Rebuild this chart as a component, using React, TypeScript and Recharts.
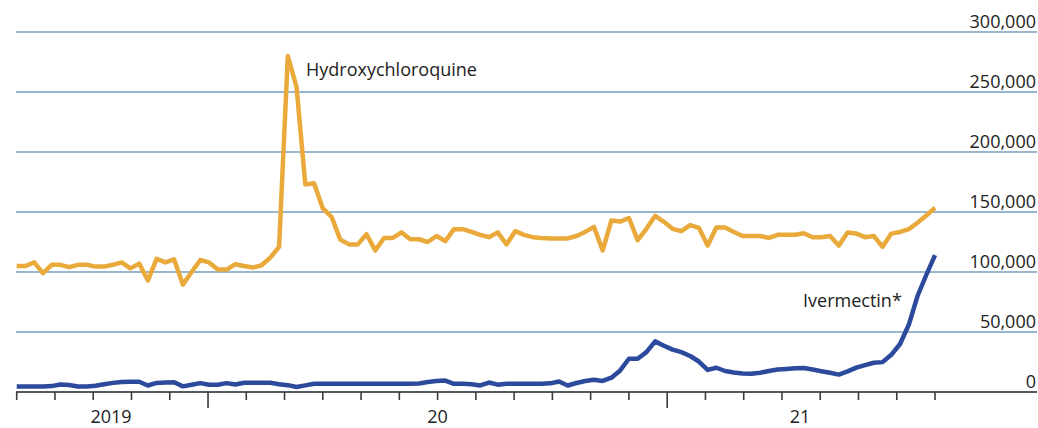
import React from 'react';
import { LineChart, Line, XAxis, YAxis, CartesianGrid } from 'recharts';

// Weekly prescriptions (week index 0..105)
const hydroxychloroquine = [
  105000, 105000, 108000, 99000, 106000, 106000, 104000, 106000, 106000, 104500,
  104500, 106000, 108000, 103000, 107000, 93000, 111000, 108000, 110500, 89500,
  100000, 110000, 108000, 102000, 102000, 106500, 105000, 103700, 105600, 112000,
  121000, 280000, 254000, 173000, 174000, 153000, 146000, 127000, 123000, 123000,
  131500, 118000, 128400, 128400, 133000, 127300, 127300, 125000, 130000, 125700,
  135700, 135700, 133400, 131000, 129000, 133000, 123000, 134000, 131000, 129000,
  128400, 128000, 128000, 128000, 130000, 133400, 137600, 118000, 143000, 142000,
  145000, 126500, 136000, 146800, 141800, 136000, 134000, 139000, 136800, 122000,
  137000, 137000, 133400, 130000, 130000, 130000, 128400, 131000, 131000, 131000,
  132300, 129000, 129000, 130000, 122000, 133000, 132000, 129000, 130000, 121000,
  132000, 133400, 135700, 141000, 147000, 153500,
];

const ivermectin = [
  4600, 4600, 4600, 4600, 4900, 6300, 5800, 4600, 4600, 5200,
  6500, 7600, 8400, 8500, 8500, 5400, 7600, 8000, 8200, 4700,
  6000, 7400, 6100, 6000, 7400, 6300, 7700, 7700, 7700, 7700,
  6500, 5700, 4200, 5500, 6800, 6800, 6800, 6800, 6800, 6800,
  6800, 6800, 6800, 6800, 6800, 6800, 7100, 8300, 9100, 9500,
  6800, 6800, 6500, 5500, 7900, 6100, 6800, 6800, 6800, 6800,
  6800, 7200, 8800, 5400, 7500, 9200, 10200, 9200, 11900, 18000,
  27700, 27700, 33200, 42200, 38600, 35300, 33200, 30000, 25400, 18400,
  20200, 17500, 16300, 15500, 15300, 16000, 17500, 18700, 19200, 19700,
  20000, 18700, 17300, 16000, 14500, 17200, 20300, 22400, 24400, 24900,
  31000, 40000, 56000, 80000, 97500, 114000,
];

const yTicks = [0, 50000, 100000, 150000, 200000, 250000, 300000];

// x-axis: 25 monthly ticks, two longer ones, and year labels (positions in week units)
const monthTickCount = 25;
const tickSpacingWeeks = 105 / 24;
const longTickMonths = [5, 17];
const yearLabels = ['2019', '20', '21'];
const yearLabelWeeks = [10.78, 48.11, 89.56];

const data = hydroxychloroquine.map((h, i) => ({ week: i, hcq: h, iver: ivermectin[i] }));

const monthTicks = Array.from({ length: monthTickCount }, (_, m) => m * tickSpacingWeeks);
const allTicks = [...monthTicks, ...yearLabelWeeks];

const FONT = '"Open Sans", sans-serif';
const TEXT = '#222222';
const ORANGE = '#E9A93B';
const BLUE = '#2C4A9C';
const GRID = '#9AB6CE';
const AXIS = '#3a3a3a';

const XTick = (props: any) => {
  const { x, y, payload } = props;
  const v = payload.value;
  const li = yearLabelWeeks.indexOf(v);
  if (li >= 0) {
    return (
      <text x={x} y={y + 31} textAnchor="middle" fontFamily={FONT} fontSize={18} fill={TEXT}>
        {yearLabels[li]}
      </text>
    );
  }
  const m = monthTicks.indexOf(v);
  const long = longTickMonths.includes(m);
  return <line x1={x} x2={x} y1={y} y2={y + (long ? 16 : 8)} stroke={AXIS} strokeWidth={1.6} />;
};

const YTick = (props: any) => {
  const { y, payload } = props;
  return (
    <text x={1036} y={y - 4} textAnchor="end" fontFamily={FONT} fontSize={18} fill={TEXT}>
      {Number(payload.value).toLocaleString('en-US')}
    </text>
  );
};

export default function App() {
  return (
    <div style={{ position: 'absolute', left: 0, top: 0, width: 1038, height: 428, background: '#fff', fontFamily: FONT }}>
      <LineChart width={1038} height={428} data={data} margin={{ top: 32, right: 0, left: 16, bottom: 0 }}>
        <CartesianGrid horizontal vertical={false} stroke={GRID} strokeWidth={2} />
        <XAxis
          dataKey="week"
          type="number"
          domain={[-0.08, 116.66]}
          ticks={allTicks}
          interval={0}
          tick={<XTick />}
          tickLine={false}
          tickSize={0}
          tickMargin={0}
          height={36}
          axisLine={{ stroke: AXIS, strokeWidth: 1.6 }}
          allowDataOverflow
        />
        <YAxis
          orientation="right"
          width={1}
          domain={[0, 300000]}
          ticks={yTicks}
          interval={0}
          tick={<YTick />}
          tickLine={false}
          tickSize={0}
          tickMargin={0}
          axisLine={false}
        />
        <Line type="linear" dataKey="hcq" stroke={ORANGE} strokeWidth={4.5} dot={false} isAnimationActive={false} strokeLinejoin="round" />
        <Line type="linear" dataKey="iver" stroke={BLUE} strokeWidth={4.5} dot={false} isAnimationActive={false} strokeLinejoin="round" />
        <text x={306} y={76} fontFamily={FONT} fontSize={18} fill={TEXT}>Hydroxychloroquine</text>
        <text x={803} y={307} fontFamily={FONT} fontSize={18} fill={TEXT}>Ivermectin*</text>
      </LineChart>
    </div>
  );
}
